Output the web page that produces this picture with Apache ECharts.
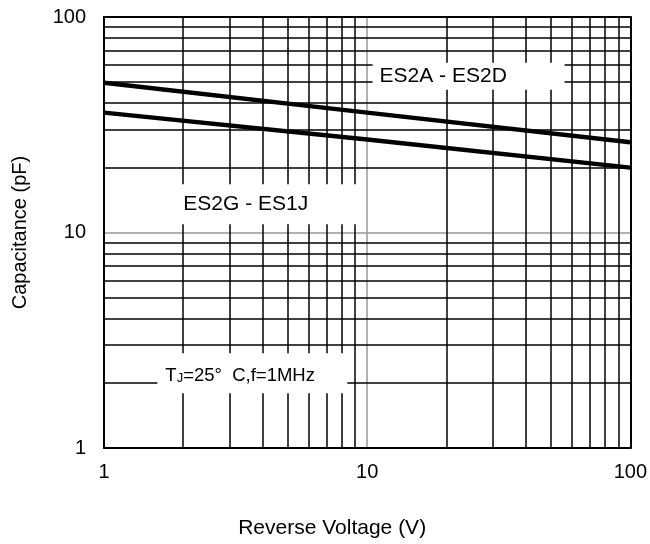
<!DOCTYPE html>
<html>
<head>
<meta charset="utf-8">
<script src="https://cdn.jsdelivr.net/npm/echarts@6/dist/echarts.min.js"></script>
<style>
html,body{margin:0;padding:0;background:#fff;}
#chart{width:650px;height:544px;}
</style>
</head>
<body>
<div id="chart"></div>
<script>
// ---- data ----
const voltage = [1, 10, 100];
const capES2A_ES2D = [49.5, 36, 26.2];
const capES2G_ES1J = [36, 27, 20];
const minorGridValues = [2, 3, 4, 5, 6, 7, 8, 9, 20, 30, 40, 50, 60, 70, 80, 90];
const seriesNames = ['ES2A - ES2D', 'ES2G - ES1J'];
const conditionText = 'TJ=25°  C,f=1MHz';

const FONT = 'Liberation Sans, Arial, sans-serif';
const chart = echarts.init(document.getElementById('chart'), null, {renderer: 'canvas'});

const minorLines = [];
minorGridValues.forEach(v => { minorLines.push({xAxis: v}); minorLines.push({yAxis: v}); });

const baseLog = {type: 'log', logBase: 10, min: 1, max: 100};

const option = {
  backgroundColor: '#fff',
  animation: false,
  grid: {left: 104, right: 18, top: 17, bottom: 94},
  xAxis: [
    Object.assign({}, baseLog, {
      position: 'bottom',
      name: 'Reverse Voltage (V)',
      nameLocation: 'middle',
      nameGap: 70,
      nameTextStyle: {fontFamily: FONT, fontSize: 21, color: '#000', padding: [0, 70, 0, 0]},
      axisLine: {show: true, lineStyle: {color: '#000', width: 2}},
      axisTick: {show: false},
      axisLabel: {fontFamily: FONT, fontSize: 20, color: '#000', margin: 14, formatter: v => String(v)},
      splitLine: {show: true, lineStyle: {color: '#999', width: 1.5}}
    }),
    Object.assign({}, baseLog, {
      position: 'top',
      axisLine: {show: true, lineStyle: {color: '#000', width: 2}},
      axisTick: {show: false},
      axisLabel: {show: false},
      splitLine: {show: false}
    })
  ],
  yAxis: [
    Object.assign({}, baseLog, {
      position: 'left',
      name: 'Capacitance (pF)',
      nameLocation: 'middle',
      nameGap: 74,
      nameTextStyle: {fontFamily: FONT, fontSize: 20, color: '#000'},
      axisLine: {show: true, lineStyle: {color: '#000', width: 2}},
      axisTick: {show: false},
      axisLabel: {fontFamily: FONT, fontSize: 20, color: '#000', margin: 18, formatter: v => String(v)},
      splitLine: {show: true, lineStyle: {color: '#999', width: 1.5}}
    }),
    Object.assign({}, baseLog, {
      position: 'right',
      axisLine: {show: true, lineStyle: {color: '#000', width: 2}},
      axisTick: {show: false},
      axisLabel: {show: false},
      splitLine: {show: false}
    })
  ],
  series: [
    {
      name: seriesNames[0],
      type: 'line',
      z: 3,
      xAxisIndex: 0, yAxisIndex: 0,
      data: voltage.map((v, i) => [v, capES2A_ES2D[i]]),
      showSymbol: false, symbol: 'none',
      lineStyle: {color: '#000', width: 4.5},
      markLine: {
        silent: true, symbol: 'none', z: 2,
        label: {show: false},
        lineStyle: {color: '#000', width: 1.5, type: 'solid'},
        emphasis: {disabled: true},
        data: minorLines
      }
    },
    {
      name: seriesNames[1],
      type: 'line',
      z: 3,
      xAxisIndex: 0, yAxisIndex: 0,
      data: voltage.map((v, i) => [v, capES2G_ES1J[i]]),
      showSymbol: false, symbol: 'none',
      lineStyle: {color: '#000', width: 4.5}
    },
    {
      type: 'scatter',
      z: 10,
      silent: true,
      symbolSize: 1,
      itemStyle: {color: 'rgba(255,255,255,0)', opacity: 1},
      emphasis: {disabled: true},
      label: {
        show: true, position: 'right', distance: 0,
        fontFamily: FONT, color: '#000', backgroundColor: '#fff', opacity: 1
      },
      data: [
        {value: [10.44, 53.1], label: {formatter: seriesNames[0], fontSize: 21, lineHeight: 19, width: 185, padding: [4, 0, 4, 7]}},
        {value: [1.874, 13.54], label: {formatter: seriesNames[1], fontSize: 21, lineHeight: 20, width: 179, padding: [10, 0, 10, 7]}},
        {value: [1.588, 2.22], label: {
          formatter: '{t|T}{s|J}{t|' + conditionText.slice(2) + '}',
          width: 182, padding: [12, 0, 8, 8],
          rich: {
            t: {fontFamily: FONT, fontSize: 18.5, lineHeight: 20, color: '#000', verticalAlign: 'bottom'},
            s: {fontFamily: FONT, fontSize: 13, lineHeight: 20, color: '#000', verticalAlign: 'bottom'}
          }
        }}
      ]
    }
  ]
};
chart.setOption(option);
</script>
</body>
</html>
